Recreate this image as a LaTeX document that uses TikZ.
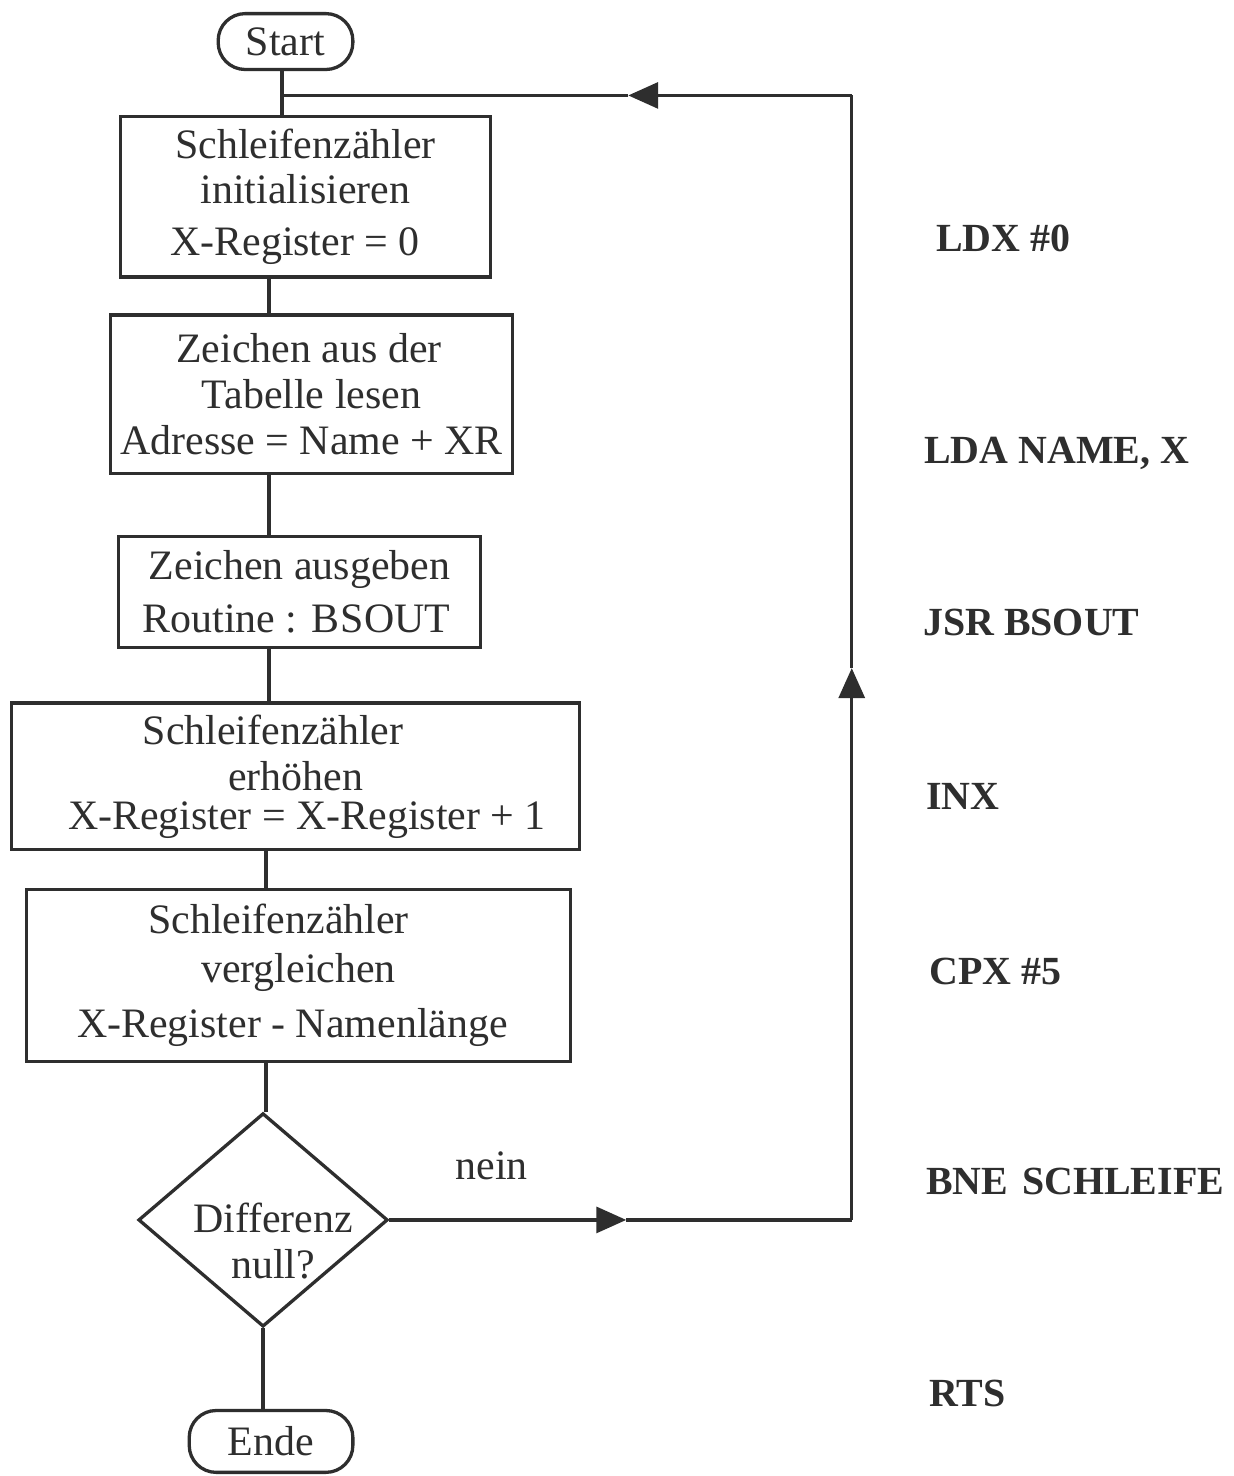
\documentclass[tikz,border=0pt]{standalone}
\usepackage{fontspec}
\setmainfont{Liberation Serif}
\usetikzlibrary{arrows.meta,shapes.geometric}
\definecolor{ink}{HTML}{2E2E2E}
\begin{document}
\begin{tikzpicture}[x=1pt,y=-1pt,
  every path/.style={draw=ink},
  line width=3.3pt, ink,
  txt/.style={font=\fontsize{42}{46}\selectfont, text=ink, align=center, inner sep=0pt},
  stepbox/.style={txt, draw=ink, line width=3.3pt, rectangle},
  term/.style={txt, draw=ink, line width=3.3pt, rounded corners=27pt},
  decision/.style={draw=ink, line width=3.3pt, diamond, shape aspect=1.17, inner sep=0pt},
  code/.style={font=\fontsize{40}{44}\selectfont\bfseries, text=ink, anchor=base west, inner sep=0pt},
  tip/.style={-{Triangle[length=30pt,width=26pt]}}]
\useasboundingbox (0,0) rectangle (1233,1476);
\fill[white] (0,0) rectangle (1233,1476);

% terminals
\node[term, minimum width=135pt, minimum height=56pt] (start) at (284.5,40) {Start};
\node[term, minimum width=164pt, minimum height=62pt] (ende) at (270,1443) {Ende};

% process steps
\node[stepbox, minimum width=371pt, minimum height=161pt] (b1) at (304.5,195.5)
  {Schleifenzähler\\initialisieren\hspace*{9pt}\\[6pt]X-Register = 0\hspace*{21pt}};
\node[stepbox, minimum width=403pt, minimum height=159pt] (b2) at (310.5,393.5)
  {Zeichen aus der\hspace*{5pt}\\Tabelle lesen\hspace*{28pt}\\Adresse = Name + XR};
\node[stepbox, minimum width=363pt, minimum height=111pt] (b3) at (298.5,591.5)
  {Zeichen ausgeben\\[7pt]Routine : B\kern1.5pt SOUT\hspace*{6pt}};
\node[stepbox, minimum width=569pt, minimum height=147pt] (b4) at (294.5,776.5)
  {Schleifenzähler\hspace*{45pt}\\erhöhen\hspace*{93pt}\\[-7pt]\hspace*{23pt}X-Register = X-Register + 1};
\node[stepbox, minimum width=545pt, minimum height=172pt] (b5) at (297.5,976)
  {Schleifenzähler\hspace*{40pt}\\[3pt]vergleichen\hspace*{64pt}\\[9pt]X-Register - Namenlänge\hspace*{12pt}};

% decision
\node[decision, minimum width=250pt, minimum height=214pt] (dec) at (262,1221) {};
\node[txt] (dectext) at (272,1242) {Differenz\\null?};
\node[txt, anchor=base] (nein) at (491,1180) {nein};

% main flow
\coordinate (join) at ([xshift=-3.5pt]start.south |- 0,94);
\draw ([xshift=-3.5pt]start.south) -- ([xshift=-3.5pt]start.south |- b1.north);
\draw ([xshift=-36.5pt]b1.south) -- ([xshift=-36.5pt]b1.south |- b2.north);
\draw ([xshift=-42.5pt]b2.south) -- ([xshift=-42.5pt]b2.south |- b3.north);
\draw ([xshift=-30.5pt]b3.south) -- ([xshift=-30.5pt]b3.south |- b4.north);
\draw ([xshift=-29.5pt]b4.south) -- ([xshift=-29.5pt]b4.south |- b5.north);
\draw ([xshift=-32.5pt]b5.south) -- ([xshift=-32.5pt]b5.south |- dec.north);
\draw (dec.south) -- (dec.south |- ende.north);

% loop back ("nein")
\coordinate (tipA) at (dec.east -| 626,0);
\coordinate (cr) at (dec.east -| 852,0);
\coordinate (tipB) at (852,668);
\coordinate (ct) at (852,94);
\coordinate (tipC) at (628,94);
\draw[tip] (dec.east) -- (tipA);
\draw (tipA) -- (cr);
\draw[tip] (cr) -- (tipB);
\draw (tipB) -- (ct);
\draw[tip] (ct) -- (tipC);
\draw (tipC) -- (join);

% assembler listing
\node[code] (c1) at (935,250) {LDX \#0};
\node[code] (c2) at (923,463) {LDA NAME, X};
\node[code] (c3) at (922,635) {JSR BSOUT};
\node[code] (c4) at (925,810) {INX};
\node[code] (c5) at (928,985) {CPX \#5};
\node[code] (c6) at (925,1196) {BNE\hspace{0.35em}SCHLEIFE};
\node[code] (c7) at (928,1408) {RTS};
\end{tikzpicture}
\end{document}
